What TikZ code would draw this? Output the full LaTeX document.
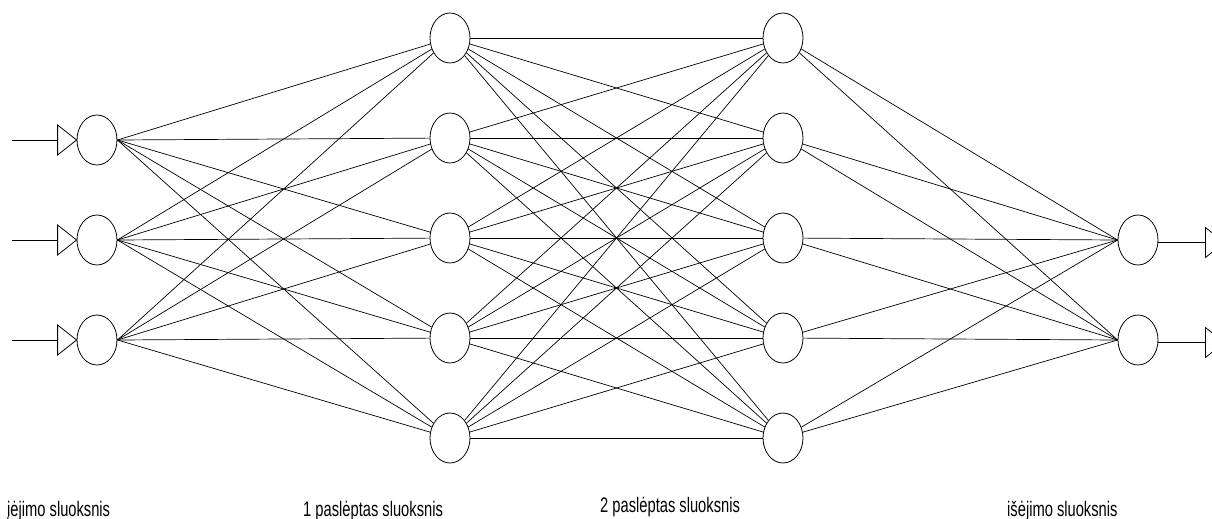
\documentclass[tikz,border=0pt]{standalone}
\usepackage{fontspec}
\setmainfont{Liberation Sans}
\usetikzlibrary{shapes.geometric}
\begin{document}
\begin{tikzpicture}[x=1pt,y=-1pt,
  neuron/.style={ellipse,draw,minimum width=40pt,minimum height=50pt,inner sep=0pt,line width=0.8pt},
  conn/.style={line width=0.7pt},
  lbl/.style={anchor=base west,inner sep=0pt,font=\fontsize{21}{21}\selectfont}]
\useasboundingbox (0,0) rectangle (1212,519);
\clip (0,0) rectangle (1212,519);
% input layer
\foreach \i/\y in {1/140,2/240,3/340}{
  \node[neuron] (in\i) at (97,\y) {};
  \draw[line width=0.8pt] (in\i.west) -- ++(-19,-15) -- ++(0,30) -- cycle;
  \draw[conn] ([xshift=-19pt]in\i.west) -- ++(-46,0);
}
% hidden layers
\foreach \i/\y in {1/38,2/138,3/238,4/338,5/438}{
  \node[neuron] (ha\i) at (450,\y) {};
  \node[neuron] (hb\i) at (783,\y) {};
}
% output layer
\foreach \i/\y in {1/240,2/340}{
  \node[neuron] (out\i) at (1138,\y) {};
  \draw[conn] ([yshift=-2.5pt]out\i.east) -- ++(47,0) coordinate (ot\i);
  \draw[line width=0.8pt] (ot\i) ++(0,-15) -- ++(19,15) -- ++(-19,15) -- cycle;
}
% connections
\foreach \i in {1,2,3}{\foreach \j in {1,...,5}{\draw[conn] (in\i.east) -- (ha\j);}}
\foreach \i in {1,...,5}{\foreach \j in {1,...,5}{\draw[conn] (ha\i) -- (hb\j);}}
\foreach \i in {1,...,5}{\foreach \j in {1,2}{\draw[conn] (hb\i) -- (out\j.west);}}
% labels
\node[lbl] (l1) at (7,516.5) {\scalebox{0.7}[1]{įėjimo sluoksnis}};
\node[lbl] (l2) at (303,516.5) {\scalebox{0.7}[1]{1 paslėptas sluoksnis}};
\node[lbl] (l3) at (600,512.5) {\scalebox{0.7}[1]{2 paslėptas sluoksnis}};
\node[lbl] (l4) at (1007,516.5) {\scalebox{0.7}[1]{išėjimo sluoksnis}};
\end{tikzpicture}
\end{document}
